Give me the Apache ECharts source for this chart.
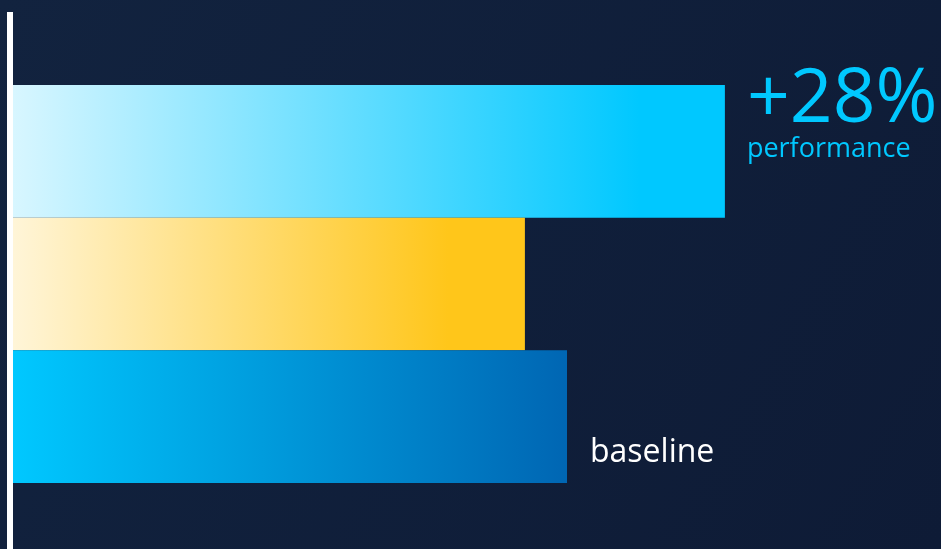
<!DOCTYPE html>
<html>
<head>
<meta charset="utf-8">
<script src="https://cdn.jsdelivr.net/npm/echarts@6/dist/echarts.min.js"></script>
<style>html,body{margin:0;padding:0;background:#10203c;}#c{width:941px;height:549px;}</style>
</head>
<body>
<div id="c"></div>
<script>
var categories = ['new', 'alternative', 'baseline'];
var values = [128.5, 92.4, 100];
var gainLabel = '+28%';
var gainSub = 'performance';
var baseLabel = 'baseline';

var gradients = [
  [['0', '#d8f6ff'], ['0.88', '#00c8ff'], ['1', '#00c8ff']],
  [['0', '#fff5d8'], ['0.85', '#ffc61a'], ['1', '#ffc61a']],
  [['0', '#00c8ff'], ['1', '#0066b3']]
];

function grad(stops) {
  return new echarts.graphic.LinearGradient(0, 0, 1, 0, stops.map(function (s) {
    return { offset: parseFloat(s[0]), color: s[1] };
  }));
}

var chart = echarts.init(document.getElementById('c'));
var data = values.map(function (v, i) {
  var item = { value: v, itemStyle: { color: grad(gradients[i]) } };
  if (i === 0) {
    item.label = {
      show: true, position: 'right', distance: 22, offset: [0, -38],
      formatter: '{a|' + gainLabel + '}\n{b|' + gainSub + '}',
      rich: {
        a: { fontFamily: 'Open Sans', fontWeight: 400, fontSize: 75, color: '#00c8ff', lineHeight: 72 },
        b: { fontFamily: 'Open Sans', fontWeight: 400, fontSize: 27, color: '#00c8ff', lineHeight: 26 }
      },
      align: 'left'
    };
  } else if (i === 2) {
    item.label = {
      show: true, position: 'right', distance: 23, offset: [0, 36],
      formatter: baseLabel,
      fontFamily: 'Open Sans', fontSize: 32, color: '#ffffff'
    };
  }
  return item;
});

chart.setOption({
  backgroundColor: new echarts.graphic.LinearGradient(0, 0, 1, 1, [
    { offset: 0, color: '#12233f' }, { offset: 1, color: '#0e1b36' }
  ]),
  animation: false,
  grid: { left: 13, top: 85, width: 886.4, height: 398 },
  xAxis: { type: 'value', min: 0, max: 160, show: false },
  yAxis: {
    type: 'category', data: categories, inverse: true,
    axisLine: { show: false }, axisTick: { show: false }, axisLabel: { show: false }
  },
  graphic: [
    { type: 'rect', shape: { x: 7, y: 12, width: 6, height: 537 }, style: { fill: '#ffffff' }, z: 10 }
  ],
  series: [{
    type: 'bar', data: data, barCategoryGap: 0, barWidth: '100%'
  }]
});
</script>
</body>
</html>
